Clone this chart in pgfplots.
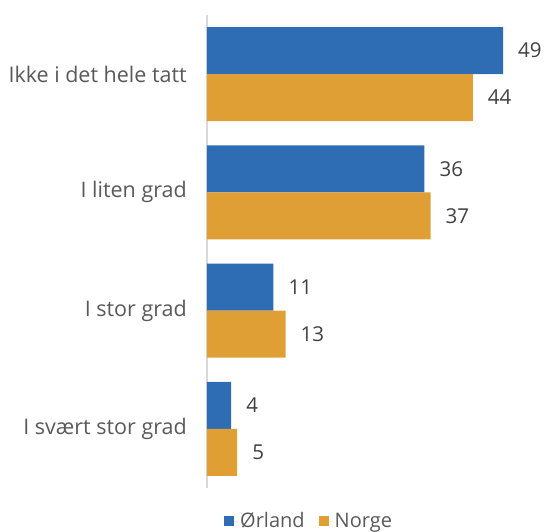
\documentclass[border=0pt]{standalone}
\usepackage{pgfplots}
\pgfplotsset{compat=1.18}
\usepackage{fontspec}
\setmainfont{Open Sans}
\usetikzlibrary{calc}
\definecolor{cblue}{HTML}{2E6DB4}
\definecolor{corange}{HTML}{E09F35}
\definecolor{ctext}{HTML}{595959}
\definecolor{cnum}{HTML}{404040}
\definecolor{caxis}{HTML}{D9D9D9}
\begin{document}
\begin{tikzpicture}
\begin{axis}[
  name=ax,
  scale only axis,
  width=296pt, height=473pt,
  xbar, bar width=47pt,
  xmin=0, xmax=49,
  ymin=-0.5, ymax=3.5,
  y dir=reverse,
  ytick={0,1,2,3},
  yticklabels={Ikke i det hele tatt, I liten grad, I stor grad, I svært stor grad},
  xtick=\empty,
  major tick length=0pt,
  axis x line=none,
  axis y line*=left,
  y axis line style={caxis, line width=1.5pt, -},
  /pgf/number format/assume math mode=true,
  yticklabel style={font=\fontsize{21.5}{25}\selectfont, text=ctext, inner sep=0pt, xshift=-20pt},
  nodes near coords,
  nodes near coords style={font=\fontsize{20.5}{24}\selectfont, text=cnum, anchor=west, inner sep=0pt, xshift=15pt},
  clip=false,
  legend columns=2,
  legend style={draw=none, fill=none, at={(rel axis cs:0.345,0)}, anchor=center, yshift=-33pt, font=\fontsize{20}{24}\selectfont, text=ctext, inner sep=0pt, nodes={inner sep=2pt}, /tikz/every even column/.append style={column sep=12pt}},
  legend image code/.code={\fill[#1] (0pt,-5pt) rectangle (10pt,5pt); \path (0pt,0pt) -- (14pt,0pt);},
]
\addplot[fill=cblue, draw=none, bar shift=23.5pt] coordinates {(49,0) (36,1) (11,2) (4,3)};
\addplot[fill=corange, draw=none, bar shift=-23.5pt] coordinates {(44,0) (37,1) (13,2) (5,3)};
\legend{Ørland, Norge}
\end{axis}
\pgfresetboundingbox
\path ($(ax.south west)+(-207pt,-44pt)$) rectangle ($(ax.north east)+(43pt,15pt)$);
\end{tikzpicture}
\end{document}
